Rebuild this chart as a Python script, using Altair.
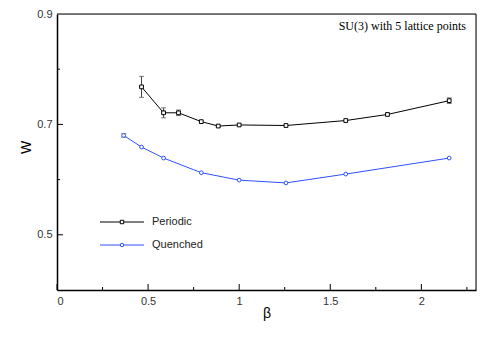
import altair as alt
import pandas as pd

# Periodic data
per_beta = [0.464, 0.585, 0.667, 0.792, 0.885, 1.0, 1.257, 1.585, 1.814, 2.153]
per_w = [0.768, 0.721, 0.721, 0.705, 0.697, 0.699, 0.698, 0.707, 0.718, 0.743]
per_err = [0.019, 0.009, 0.005, 0.0, 0.0, 0.0, 0.0, 0.0, 0.0, 0.005]

# Quenched data
que_beta = [0.366, 0.464, 0.585, 0.792, 1.0, 1.257, 1.585, 2.153]
que_w = [0.680, 0.659, 0.639, 0.6125, 0.599, 0.594, 0.610, 0.639]
que_err = [0.003, 0.0, 0.0, 0.0, 0.0, 0.0, 0.0, 0.0]

x_major = [0, 0.5, 1, 1.5, 2]
x_minor = [0.25, 0.75, 1.25, 1.75, 2.25]
y_major = [0.5, 0.7]
y_minor = [0.6, 0.8]
y_labels = [0.5, 0.7, 0.9]

legend_names = ["Periodic", "Quenched"]
title_text = "SU(3) with 5 lattice points"

BLACK = "#000000"
BLUE = "#3050ff"
W, H = 419, 276

per = pd.DataFrame({"beta": per_beta, "w": per_w, "err": per_err})
per["lo"] = per["w"] - per["err"]
per["hi"] = per["w"] + per["err"]
que = pd.DataFrame({"beta": que_beta, "w": que_w, "err": que_err})
que["lo"] = que["w"] - que["err"]
que["hi"] = que["w"] + que["err"]

xs = alt.Scale(domain=[0, 2.3], nice=False, zero=False)
ys = alt.Scale(domain=[0.4, 0.9], nice=False, zero=False)

xax = alt.Axis(values=x_major, ticks=False, grid=False, labelFontSize=11, labelColor="#333",
               labelFont="Liberation Sans", domainColor="#000", domainWidth=1.5,
               title="β", titleFont="Liberation Sans", titleFontSize=14, titleFontWeight="normal",
               titlePadding=0, labelPadding=5, labelExpr="datum.value == 0 ? '0' : format(datum.value, '.2~f')")
yax = alt.Axis(values=y_labels, ticks=False, grid=False, labelFontSize=11, labelColor="#333",
               labelFont="Liberation Sans", domainColor="#000", domainWidth=1.5, format=".1f",
               title="W", titleFont="Liberation Sans", titleFontSize=14, titleFontWeight="normal",
               titleX=-24, titleY=133, labelPadding=5)

X = alt.X("beta:Q", scale=xs, axis=xax)
Y = alt.Y("w:Q", scale=ys, axis=yax)

def series(df, color, shape):
    base = alt.Chart(df)
    line = base.mark_line(color=color, strokeWidth=1).encode(x=X, y=Y)
    pts = base.mark_point(shape=shape, size=14, filled=True, fill="white", stroke=color,
                          strokeWidth=1, opacity=1).encode(x=X, y=Y)
    ed = df[df["err"] > 0]
    eb = alt.Chart(ed).mark_rule(color="#444", strokeWidth=1).encode(
        x=alt.X("beta:Q", scale=xs), y=alt.Y("lo:Q", scale=ys), y2="hi:Q")
    cap_lo = alt.Chart(ed).mark_tick(color="#444", orient="horizontal", size=5, thickness=1).encode(
        x=alt.X("beta:Q", scale=xs), y=alt.Y("lo:Q", scale=ys))
    cap_hi = alt.Chart(ed).mark_tick(color="#444", orient="horizontal", size=5, thickness=1).encode(
        x=alt.X("beta:Q", scale=xs), y=alt.Y("hi:Q", scale=ys))
    return [eb, cap_lo, cap_hi, line, pts]

# inner ticks
xt_major = alt.Chart(pd.DataFrame({"t": x_major})).mark_rule(color="#000", strokeWidth=1).encode(
    x=alt.X("t:Q", scale=xs), y=alt.value(H), y2=alt.value(H - 6))
xt_minor = alt.Chart(pd.DataFrame({"t": x_minor})).mark_rule(color="#000", strokeWidth=1).encode(
    x=alt.X("t:Q", scale=xs), y=alt.value(H), y2=alt.value(H - 3))
yt_major = alt.Chart(pd.DataFrame({"t": y_major})).mark_rule(color="#000", strokeWidth=1).encode(
    y=alt.Y("t:Q", scale=ys), x=alt.value(0), x2=alt.value(6))
yt_minor = alt.Chart(pd.DataFrame({"t": y_minor})).mark_rule(color="#000", strokeWidth=1).encode(
    y=alt.Y("t:Q", scale=ys), x=alt.value(0), x2=alt.value(3))

# frame top/right
frame_top = alt.Chart(pd.DataFrame({"a": [0]})).mark_rule(color="#000", strokeWidth=1).encode(
    x=alt.value(0), x2=alt.value(W), y=alt.value(0))
frame_right = alt.Chart(pd.DataFrame({"a": [0]})).mark_rule(color="#000", strokeWidth=1).encode(
    x=alt.value(W), y=alt.value(0), y2=alt.value(H))

# legend
leg = pd.DataFrame({"name": legend_names, "color": [BLACK, BLUE], "shape": ["square", "circle"],
                    "yy": [208, 231]})
leg_lines = alt.Chart(leg).mark_rule(strokeWidth=1).encode(
    x=alt.value(43), x2=alt.value(87), y=alt.Y("yy:Q", scale=None),
    color=alt.Color("color:N", scale=None))
leg_pts = alt.Chart(leg).mark_point(size=12, filled=True, fill="white", strokeWidth=1, opacity=1).encode(
    x=alt.value(65), y=alt.Y("yy:Q", scale=None),
    stroke=alt.Stroke("color:N", scale=None), shape=alt.Shape("shape:N", scale=None))
leg_text = alt.Chart(leg).mark_text(align="left", baseline="middle", font="Liberation Sans",
                                    fontSize=11, color="#222").encode(
    x=alt.value(95), y=alt.Y("yy:Q", scale=None), text="name:N")

title = alt.Chart(pd.DataFrame({"t": [title_text]})).mark_text(
    align="right", baseline="middle", font="Liberation Serif", fontSize=12, color="#000").encode(
    x=alt.value(409), y=alt.value(12), text="t:N")

layers = series(per, BLACK, "square") + series(que, BLUE, "circle")
chart = alt.layer(xt_major, xt_minor, yt_major, yt_minor, frame_top, frame_right, *layers,
                  leg_lines, leg_pts, leg_text, title).properties(
    width=W, height=H, padding={"left": 49, "top": 6, "right": 1, "bottom": 48},
    autosize=alt.AutoSizeParams(type="none")
).configure_view(stroke=None).configure(background="white")

chart.save("out.html", embed_options={"renderer": "svg", "actions": False})
